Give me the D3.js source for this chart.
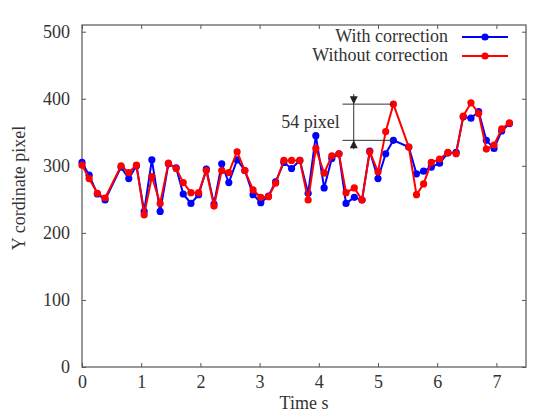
<!DOCTYPE html>
<html>
<head>
<meta charset="utf-8">
<script src="https://cdn.jsdelivr.net/npm/d3@7"></script>
<style>
  body { margin: 0; background: #fff; }
  svg text { font-family: "Times New Roman", "Liberation Serif", "DejaVu Serif", serif !important; }
</style>
</head>
<body>
<svg id="chart" width="549" height="414"></svg>
<script>
// sample times (s)
const times = [0, 0.12, 0.26, 0.39, 0.66, 0.79, 0.92, 1.05, 1.18, 1.32,
  1.46, 1.59, 1.71, 1.84, 1.97, 2.10, 2.23, 2.36, 2.48, 2.62,
  2.75, 2.89, 3.02, 3.15, 3.27, 3.41, 3.54, 3.68, 3.82, 3.95,
  4.09, 4.22, 4.34, 4.46, 4.60, 4.73, 4.86, 5.00, 5.13, 5.26,
  5.52, 5.65, 5.77, 5.90, 6.04, 6.18, 6.32, 6.44, 6.57, 6.70,
  6.83, 6.96, 7.09, 7.22];

// Y coordinate (pixel)
const withCorrection = [305, 286, 258, 249, 298, 281, 300, 232, 309, 232,
  303, 297, 258, 244, 257, 295, 243, 303, 275, 309,
  293, 257, 245, 255, 276, 305, 296, 308, 259, 345,
  267, 311, 318, 244, 253, 249, 322, 281, 318, 338,
  328, 288, 292, 298, 304, 319, 320, 373, 371, 381,
  338, 326, 352, 363];

const withoutCorrection = [301, 281, 259, 252, 300, 290, 301, 227, 284, 244,
  304, 296, 275, 260, 260, 293, 240, 293, 290, 321,
  293, 264, 253, 254, 274, 308, 308, 308, 249, 326,
  289, 315, 318, 260, 267, 249, 321, 291, 351, 392,
  328, 257, 273, 305, 310, 320, 318, 374, 394, 378,
  325, 331, 355, 364];

const seriesNames = ['With correction', 'Without correction'];
const seriesColors = ['#0000ff', '#ff0000'];
const xTicks = [0, 1, 2, 3, 4, 5, 6, 7];
const yTicks = [0, 100, 200, 300, 400, 500];

// annotation: gap between the two series at the red peak
const peakIdx = 39;
const annotLabel = '54 pixel';
const annotFrom = 4.40;
const annotAt = 4.59;

const width = 549, height = 414;
const margin = { top: 25, right: 23, bottom: 47, left: 82 };
const innerW = width - margin.left - margin.right;
const innerH = height - margin.top - margin.bottom;

const fontFamily = '"Times New Roman", "Liberation Serif", "DejaVu Serif", serif';
const fontSize = '18px';

const svg = d3.select('#chart');
const g = svg.append('g').attr('transform', `translate(${margin.left},${margin.top})`);

const x = d3.scaleLinear().domain([0, 7.5]).range([0, innerW]);
const y = d3.scaleLinear().domain([0, 510]).range([innerH, 0]);

const axisColor = '#555';
const textColor = '#333';

// axes, ticks point inward
function styleAxis(sel) {
  sel.attr('font-family', fontFamily);
  sel.select('.domain').remove();
  sel.selectAll('.tick line').attr('stroke', axisColor);
  sel.selectAll('.tick text')
    .attr('fill', textColor)
    .style('font-size', fontSize);
}

g.append('g')
  .attr('transform', `translate(0,${innerH})`)
  .call(d3.axisBottom(x).tickValues(xTicks).tickSize(-4).tickPadding(8).tickFormat(d3.format('d')))
  .call(styleAxis);

g.append('g')
  .call(d3.axisTop(x).tickValues(xTicks).tickSize(-4).tickFormat(''))
  .call(styleAxis);

g.append('g')
  .call(d3.axisLeft(y).tickValues(yTicks).tickSize(-4).tickPadding(12).tickFormat(d3.format('d')))
  .call(styleAxis);

g.append('g')
  .attr('transform', `translate(${innerW},0)`)
  .call(d3.axisRight(y).tickValues(yTicks).tickSize(-4).tickFormat(''))
  .call(styleAxis);

g.append('rect')
  .attr('width', innerW)
  .attr('height', innerH)
  .attr('fill', 'none')
  .attr('stroke', axisColor)
  .attr('stroke-width', 1.2);

// axis titles
svg.append('text')
  .attr('x', margin.left + innerW / 2)
  .attr('y', 409)
  .attr('text-anchor', 'middle')
  .attr('fill', textColor)
  .attr('font-family', fontFamily)
  .style('font-size', fontSize)
  .text('Time s');

svg.append('text')
  .attr('transform', `translate(25,${margin.top + 163}) rotate(-90)`)
  .attr('text-anchor', 'middle')
  .attr('fill', textColor)
  .attr('font-family', fontFamily)
  .style('font-size', fontSize)
  .text('Y cordinate pixel');

// series
const series = [withCorrection, withoutCorrection];
const line = d3.line().x((d, i) => x(times[i])).y(d => y(d));

series.forEach((vals, s) => {
  const sg = g.append('g');
  sg.append('path')
    .datum(vals)
    .attr('fill', 'none')
    .attr('stroke', seriesColors[s])
    .attr('stroke-width', 2)
    .attr('d', line);
  sg.selectAll('circle')
    .data(vals)
    .join('circle')
    .attr('cx', (d, i) => x(times[i]))
    .attr('cy', d => y(d))
    .attr('r', 3.6)
    .attr('fill', seriesColors[s]);
});

// annotation
const ann = g.append('g').attr('stroke', '#333').attr('fill', '#222');
const yHi = y(withoutCorrection[peakIdx]);
const yLo = y(withCorrection[peakIdx]);
const xEnd = x(times[peakIdx]);
ann.append('line').attr('x1', x(annotFrom)).attr('x2', xEnd).attr('y1', yHi).attr('y2', yHi);
ann.append('line').attr('x1', x(annotFrom)).attr('x2', xEnd).attr('y1', yLo).attr('y2', yLo);
ann.append('line').attr('x1', x(annotAt)).attr('x2', x(annotAt)).attr('y1', yHi - 10).attr('y2', yLo + 9);
ann.append('path')
  .attr('stroke', 'none')
  .attr('d', `M${x(annotAt) - 4},${yHi - 8} L${x(annotAt) + 4},${yHi - 8} L${x(annotAt)},${yHi} Z`);
ann.append('path')
  .attr('stroke', 'none')
  .attr('d', `M${x(annotAt) - 4},${yLo + 8} L${x(annotAt) + 4},${yLo + 8} L${x(annotAt)},${yLo} Z`);
g.append('text')
  .attr('x', x(annotAt) - 14)
  .attr('y', (yHi + yLo) / 2 + 6)
  .attr('text-anchor', 'end')
  .attr('fill', textColor)
  .attr('font-family', fontFamily)
  .style('font-size', fontSize)
  .text(annotLabel);

// legend
const legend = g.append('g');
seriesNames.forEach((name, s) => {
  const ly = 12 + s * 19;
  legend.append('text')
    .attr('x', 366)
    .attr('y', ly + 5)
    .attr('text-anchor', 'end')
    .attr('fill', textColor)
    .attr('font-family', fontFamily)
    .style('font-size', fontSize)
    .text(name);
  legend.append('line')
    .attr('x1', 380).attr('x2', 426)
    .attr('y1', ly).attr('y2', ly)
    .attr('stroke', seriesColors[s])
    .attr('stroke-width', 2);
  legend.append('circle')
    .attr('cx', 403).attr('cy', ly).attr('r', 3.6)
    .attr('fill', seriesColors[s]);
});
</script>
</body>
</html>
